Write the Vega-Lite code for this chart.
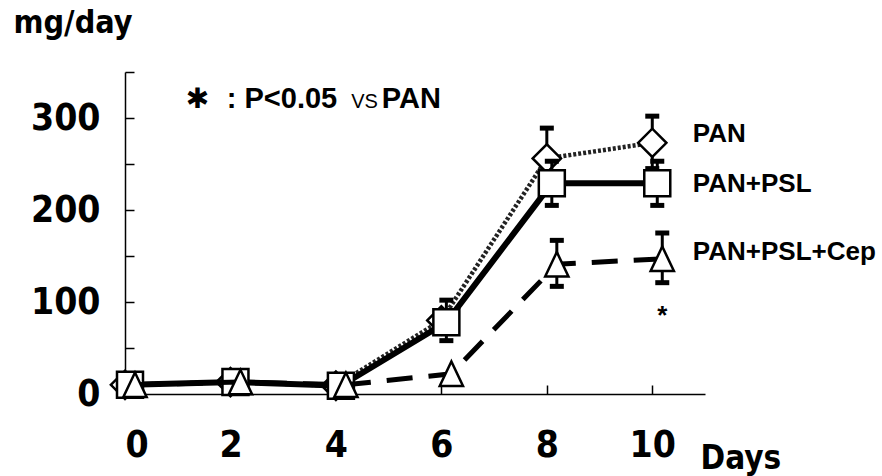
{
  "$schema": "https://vega.github.io/schema/vega-lite/v6.json",
  "width": 580,
  "height": 322,
  "autosize": {"type": "none"},
  "padding": {"left": 125, "top": 72, "right": 177, "bottom": 82},
  "background": "white",
  "config": {
    "view": {"stroke": null},
    "axis": {
      "grid": false,
      "domainColor": "black",
      "domainWidth": 1.5,
      "tickColor": "black",
      "tickWidth": 1.5,
      "tickSize": -9,
      "labelColor": "black",
      "labelFont": "Liberation Sans Narrow, Arial Narrow, DejaVu Sans Condensed, sans-serif",
      "labelFontWeight": "bold",
      "labelFontSize": 37,
      "labelOverlap": false,
      "titleColor": "black",
      "titleFont": "Liberation Sans Narrow, Arial Narrow, DejaVu Sans Condensed, sans-serif",
      "titleFontWeight": "bold"
    }
  },
  "datasets": {
    "series": [
      {"series": "PAN", "day": 0, "value": 10, "lo": null, "hi": null},
      {"series": "PAN", "day": 2, "value": 13, "lo": null, "hi": null},
      {"series": "PAN", "day": 4, "value": 9, "lo": null, "hi": null},
      {"series": "PAN", "day": 6, "value": 80, "lo": null, "hi": null},
      {"series": "PAN", "day": 8, "value": 256, "lo": 224, "hi": 289},
      {"series": "PAN", "day": 10, "value": 273, "lo": 245, "hi": 302},
      {"series": "PAN+PSL", "day": 0, "value": 10, "lo": null, "hi": null},
      {"series": "PAN+PSL", "day": 2, "value": 13, "lo": null, "hi": null},
      {"series": "PAN+PSL", "day": 4, "value": 9, "lo": null, "hi": null},
      {"series": "PAN+PSL", "day": 6, "value": 78, "lo": 58, "hi": 102},
      {"series": "PAN+PSL", "day": 8, "value": 229, "lo": 205, "hi": 253},
      {"series": "PAN+PSL", "day": 10, "value": 229, "lo": 205, "hi": 253},
      {"series": "PAN+PSL+Cep", "day": 0, "value": 10, "lo": null, "hi": null},
      {"series": "PAN+PSL+Cep", "day": 2, "value": 13, "lo": null, "hi": null},
      {"series": "PAN+PSL+Cep", "day": 4, "value": 10, "lo": null, "hi": null},
      {"series": "PAN+PSL+Cep", "day": 6, "value": 22, "lo": null, "hi": null},
      {"series": "PAN+PSL+Cep", "day": 8, "value": 141, "lo": 117, "hi": 167},
      {"series": "PAN+PSL+Cep", "day": 10, "value": 147, "lo": 121, "hi": 175}
    ],
    "labels": [
      {"label": "PAN", "day": 10.77, "value": 274},
      {"label": "PAN+PSL", "day": 10.77, "value": 220},
      {"label": "PAN+PSL+Cep", "day": 10.77, "value": 146}
    ],
    "note_bold": [
      {"label": ": P<0.05", "day": 1.93, "value": 311},
      {"label": "PAN", "day": 4.87, "value": 311}
    ],
    "note_vs": [
      {"label": "VS", "day": 4.29, "value": 311}
    ],
    "note_star": [
      {"label": "✱", "day": 1.375, "value": 320}
    ],
    "sig": [
      {"label": "*", "day": 10.19, "value": 76}
    ]
  },
  "encoding": {
    "x": {
      "field": "day",
      "type": "quantitative",
      "scale": {"domain": [0, 11], "nice": false, "zero": false},
      "axis": {
        "values": [0, 2, 4, 6, 8, 10],
        "labelPadding": 42,
        "labelBaseline": "top",
        "title": "Days",
        "titleFontSize": 33,
        "titleX": 575,
        "titleY": 74,
        "titleAlign": "left",
        "titleBaseline": "alphabetic",
        "titleAnchor": "start"
      }
    }
  },
  "layer": [
    {
      "data": {"name": "series"},
      "transform": [{"filter": "datum.series === 'PAN'"}],
      "layer": [
        {
          "mark": {"type": "line", "color": "#222", "strokeWidth": 4.5, "strokeDash": [3, 2]},
          "encoding": {
            "y": {
              "field": "value",
              "type": "quantitative",
              "scale": {"domain": [0, 350], "nice": false},
              "axis": {
                "values": [0, 50, 100, 150, 200, 250, 300, 350],
                "labelExpr": "datum.value % 100 === 0 ? datum.label : ''",
                "labelPadding": 34,
                "labelBaseline": "middle",
                "title": "mg/day",
                "titleFontSize": 32,
                "titleAngle": 0,
                "titleX": -112,
                "titleY": -40,
                "titleAlign": "left",
                "titleBaseline": "alphabetic",
                "titleAnchor": "start"
              }
            }
          }
        },
        {
          "mark": {"type": "rule", "color": "black", "strokeWidth": 3},
          "encoding": {"y": {"field": "lo", "type": "quantitative"}, "y2": {"field": "hi"}}
        },
        {
          "mark": {"type": "tick", "orient": "horizontal", "color": "black", "size": 14, "thickness": 5, "opacity": 1},
          "encoding": {"y": {"field": "lo", "type": "quantitative"}}
        },
        {
          "mark": {"type": "tick", "orient": "horizontal", "color": "black", "size": 14, "thickness": 5, "opacity": 1},
          "encoding": {"y": {"field": "hi", "type": "quantitative"}}
        },
        {
          "mark": {"type": "point", "shape": "diamond", "size": 800, "filled": true, "fill": "white", "stroke": "black", "strokeWidth": 2.5, "opacity": 1},
          "encoding": {"y": {"field": "value", "type": "quantitative"}}
        }
      ]
    },
    {
      "data": {"name": "series"},
      "transform": [{"filter": "datum.series === 'PAN+PSL'"}],
      "layer": [
        {
          "mark": {"type": "line", "color": "black", "strokeWidth": 6, "xOffset": 5},
          "encoding": {"y": {"field": "value", "type": "quantitative"}}
        },
        {
          "mark": {"type": "rule", "color": "black", "strokeWidth": 3, "xOffset": 5},
          "encoding": {"y": {"field": "lo", "type": "quantitative"}, "y2": {"field": "hi"}}
        },
        {
          "mark": {"type": "tick", "orient": "horizontal", "color": "black", "size": 14, "thickness": 5, "opacity": 1, "xOffset": 5},
          "encoding": {"y": {"field": "lo", "type": "quantitative"}}
        },
        {
          "mark": {"type": "tick", "orient": "horizontal", "color": "black", "size": 14, "thickness": 5, "opacity": 1, "xOffset": 5},
          "encoding": {"y": {"field": "hi", "type": "quantitative"}}
        },
        {
          "mark": {"type": "point", "shape": "square", "size": 676, "filled": true, "fill": "white", "stroke": "black", "strokeWidth": 2.5, "opacity": 1, "xOffset": 5},
          "encoding": {"y": {"field": "value", "type": "quantitative"}}
        }
      ]
    },
    {
      "data": {"name": "series"},
      "transform": [{"filter": "datum.series === 'PAN+PSL+Cep'"}],
      "layer": [
        {
          "mark": {"type": "line", "color": "black", "strokeWidth": 5, "strokeDash": [26, 16], "xOffset": 10},
          "encoding": {"y": {"field": "value", "type": "quantitative"}}
        },
        {
          "mark": {"type": "rule", "color": "black", "strokeWidth": 3, "xOffset": 10},
          "encoding": {"y": {"field": "lo", "type": "quantitative"}, "y2": {"field": "hi"}}
        },
        {
          "mark": {"type": "tick", "orient": "horizontal", "color": "black", "size": 14, "thickness": 5, "opacity": 1, "xOffset": 10},
          "encoding": {"y": {"field": "lo", "type": "quantitative"}}
        },
        {
          "mark": {"type": "tick", "orient": "horizontal", "color": "black", "size": 14, "thickness": 5, "opacity": 1, "xOffset": 10},
          "encoding": {"y": {"field": "hi", "type": "quantitative"}}
        },
        {
          "mark": {"type": "point", "shape": "M0,-1L-0.95,1L0.95,1Z", "size": 600, "filled": true, "fill": "white", "stroke": "black", "strokeWidth": 2.5, "opacity": 1, "xOffset": 10},
          "encoding": {"y": {"field": "value", "type": "quantitative"}}
        }
      ]
    },
    {
      "data": {"name": "labels"},
      "mark": {"type": "text", "font": "Liberation Sans", "fontWeight": "bold", "fontSize": 26, "align": "left", "baseline": "alphabetic", "color": "black"},
      "encoding": {"y": {"field": "value", "type": "quantitative"}, "text": {"field": "label"}}
    },
    {
      "data": {"name": "note_bold"},
      "mark": {"type": "text", "font": "Liberation Sans", "fontWeight": "bold", "fontSize": 29, "align": "left", "baseline": "alphabetic", "color": "black"},
      "encoding": {"y": {"field": "value", "type": "quantitative"}, "text": {"field": "label"}}
    },
    {
      "data": {"name": "note_vs"},
      "mark": {"type": "text", "font": "Liberation Sans", "fontSize": 20, "align": "left", "baseline": "alphabetic", "color": "black"},
      "encoding": {"y": {"field": "value", "type": "quantitative"}, "text": {"field": "label"}}
    },
    {
      "data": {"name": "note_star"},
      "mark": {"type": "text", "font": "DejaVu Sans", "fontWeight": "bold", "fontSize": 28, "align": "center", "baseline": "middle", "color": "black"},
      "encoding": {"y": {"field": "value", "type": "quantitative"}, "text": {"field": "label"}}
    },
    {
      "data": {"name": "sig"},
      "mark": {"type": "text", "font": "Liberation Sans", "fontWeight": "bold", "fontSize": 26, "align": "center", "baseline": "alphabetic", "color": "black"},
      "encoding": {"y": {"field": "value", "type": "quantitative"}, "text": {"field": "label"}}
    }
  ]
}
